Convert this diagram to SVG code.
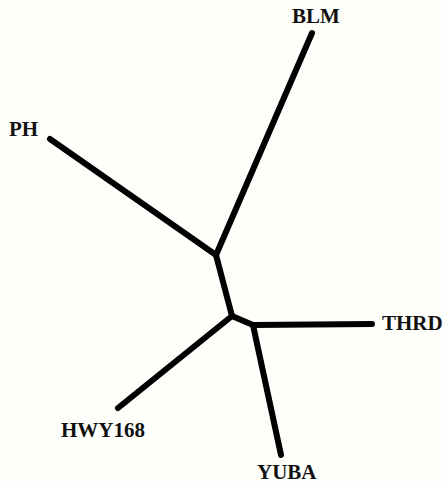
<svg xmlns="http://www.w3.org/2000/svg" width="443" height="485" viewBox="0 0 443 485">
<style>
.e{stroke:#000;stroke-width:6;stroke-linecap:round;stroke-linejoin:round;fill:none}
.t{font-family:"Liberation Serif",serif;font-weight:bold;font-size:21px;fill:#111}
</style>
<rect width="443" height="485" fill="#fefefb"/>
<g id="connectors">
<line class="e" x1="312" y1="33" x2="216" y2="255"/>
<line class="e" x1="50" y1="139" x2="216" y2="255"/>
<line class="e" x1="216" y1="255" x2="232" y2="316"/>
<line class="e" x1="118" y1="408" x2="232" y2="316"/>
<line class="e" x1="232" y1="316" x2="253" y2="325"/>
<line class="e" x1="253" y1="325" x2="372" y2="324"/>
<line class="e" x1="253" y1="325" x2="281" y2="455"/>
</g>
<g id="BLM"><text class="t" x="292" y="23">BLM</text></g>
<g id="PH"><text class="t" x="9" y="136">PH</text></g>
<g id="THRD"><text class="t" x="382" y="330">THRD</text></g>
<g id="HWY168"><text class="t" x="61" y="437">HWY168</text></g>
<g id="YUBA"><text class="t" x="257" y="479">YUBA</text></g>
</svg>
